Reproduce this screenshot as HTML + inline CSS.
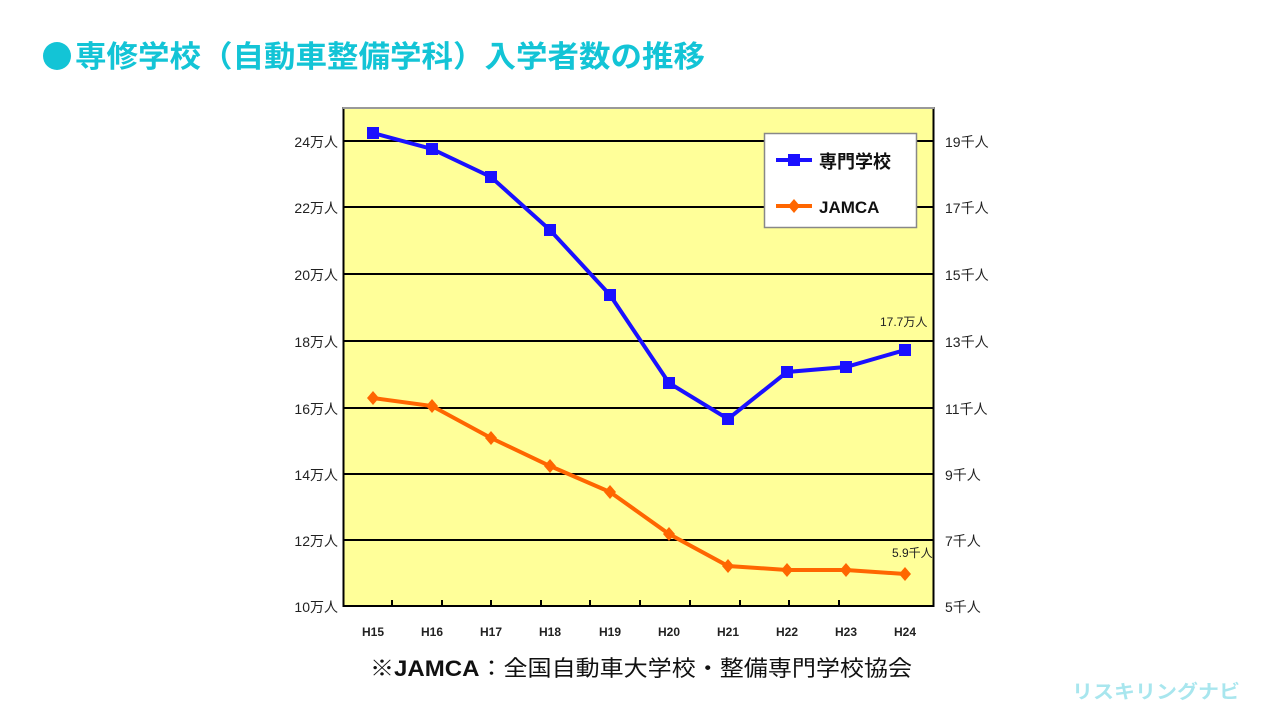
<!DOCTYPE html>
<html><head><meta charset="utf-8"><style>
body{margin:0;width:1280px;height:720px;background:#fff;overflow:hidden;font-family:"Liberation Sans","Noto Sans CJK JP",sans-serif;}
</style></head><body>
<svg width="1280" height="720" xmlns="http://www.w3.org/2000/svg" style="position:absolute;left:0;top:0">
<circle cx="57" cy="56" r="14" fill="#13c4d6"/>
<text x="75" y="67" font-size="30" font-weight="bold" fill="#13c4d6" font-family="Noto Sans CJK JP, sans-serif" textLength="630" lengthAdjust="spacingAndGlyphs">専修学校（自動車整備学科）入学者数の推移</text>
<rect x="343.5" y="108" width="590" height="498" fill="#ffff99" stroke="#000" stroke-width="2"/>
<line x1="343" y1="108" x2="934" y2="108" stroke="#999" stroke-width="2"/>
<g stroke="#000" stroke-width="2">
<line x1="343" y1="141" x2="934" y2="141"/><line x1="343" y1="207" x2="934" y2="207"/>
<line x1="343" y1="274" x2="934" y2="274"/><line x1="343" y1="341" x2="934" y2="341"/>
<line x1="343" y1="408" x2="934" y2="408"/><line x1="343" y1="474" x2="934" y2="474"/>
<line x1="343" y1="540" x2="934" y2="540"/>
<line x1="392" y1="600" x2="392" y2="606"/><line x1="442" y1="600" x2="442" y2="606"/><line x1="491" y1="600" x2="491" y2="606"/><line x1="541" y1="600" x2="541" y2="606"/><line x1="590" y1="600" x2="590" y2="606"/><line x1="640" y1="600" x2="640" y2="606"/><line x1="690" y1="600" x2="690" y2="606"/><line x1="740" y1="600" x2="740" y2="606"/><line x1="789" y1="600" x2="789" y2="606"/><line x1="839" y1="600" x2="839" y2="606"/>
</g>
<g font-size="14" fill="#222" text-anchor="end">
<text x="338" y="147">24万人</text><text x="338" y="213">22万人</text><text x="338" y="280">20万人</text><text x="338" y="347">18万人</text><text x="338" y="414">16万人</text><text x="338" y="480">14万人</text><text x="338" y="546">12万人</text><text x="338" y="612">10万人</text>
</g>
<g font-size="14" fill="#222">
<text x="945" y="147">19千人</text><text x="945" y="213">17千人</text><text x="945" y="280">15千人</text><text x="945" y="347">13千人</text><text x="945" y="414">11千人</text><text x="945" y="480">9千人</text><text x="945" y="546">7千人</text><text x="945" y="612">5千人</text>
</g>
<g font-size="12" font-weight="bold" fill="#222" text-anchor="middle">
<text x="373" y="636">H15</text><text x="432" y="636">H16</text><text x="491" y="636">H17</text><text x="550" y="636">H18</text><text x="610" y="636">H19</text><text x="669" y="636">H20</text><text x="728" y="636">H21</text><text x="787" y="636">H22</text><text x="846" y="636">H23</text><text x="905" y="636">H24</text>
</g>
<polyline points="373,133 432,149 491,177 550,230 610,295 669,383 728,419 787,372 846,367 905,350" fill="none" stroke="#1a10ff" stroke-width="4"/>
<g fill="#1a10ff">
<rect x="367" y="127" width="12" height="12"/><rect x="426" y="143" width="12" height="12"/><rect x="485" y="171" width="12" height="12"/><rect x="544" y="224" width="12" height="12"/><rect x="604" y="289" width="12" height="12"/><rect x="663" y="377" width="12" height="12"/><rect x="722" y="413" width="12" height="12"/><rect x="781" y="366" width="12" height="12"/><rect x="840" y="361" width="12" height="12"/><rect x="899" y="344" width="12" height="12"/>
</g>
<polyline points="373,398 432,406 491,438 550,466 610,492 669,534 728,566 787,570 846,570 905,574" fill="none" stroke="#ff6600" stroke-width="4"/>
<g fill="#ff6600">
<path d="M373 391l6 7-6 7-6-7z"/><path d="M432 399l6 7-6 7-6-7z"/><path d="M491 431l6 7-6 7-6-7z"/><path d="M550 459l6 7-6 7-6-7z"/><path d="M610 485l6 7-6 7-6-7z"/><path d="M669 527l6 7-6 7-6-7z"/><path d="M728 559l6 7-6 7-6-7z"/><path d="M787 563l6 7-6 7-6-7z"/><path d="M846 563l6 7-6 7-6-7z"/><path d="M905 567l6 7-6 7-6-7z"/>
</g>
<text x="880" y="326" font-size="12" fill="#222">17.7万人</text>
<text x="892" y="557" font-size="12" fill="#222">5.9千人</text>
<rect x="764.5" y="133.5" width="152" height="94" fill="#fff" stroke="#888" stroke-width="1.5"/>
<line x1="776" y1="160" x2="812" y2="160" stroke="#1a10ff" stroke-width="4"/><rect x="788" y="154" width="12" height="12" fill="#1a10ff"/>
<text x="819" y="168" font-size="18" font-weight="bold" fill="#111">専門学校</text>
<line x1="776" y1="206" x2="812" y2="206" stroke="#ff6600" stroke-width="4"/><path d="M794 199l6 7-6 7-6-7z" fill="#ff6600"/>
<text x="819" y="213" font-size="17" font-weight="bold" fill="#111">JAMCA</text>
<text x="370" y="676" font-size="22" fill="#111" textLength="542" lengthAdjust="spacingAndGlyphs"><tspan>※</tspan><tspan font-weight="bold">JAMCA</tspan><tspan>：全国自動車大学校・整備専門学校協会</tspan></text>
<text x="1072" y="698" font-size="19" font-weight="bold" fill="#a8e6ee" textLength="168" lengthAdjust="spacingAndGlyphs">リスキリングナビ</text>
</svg>
</body></html>
